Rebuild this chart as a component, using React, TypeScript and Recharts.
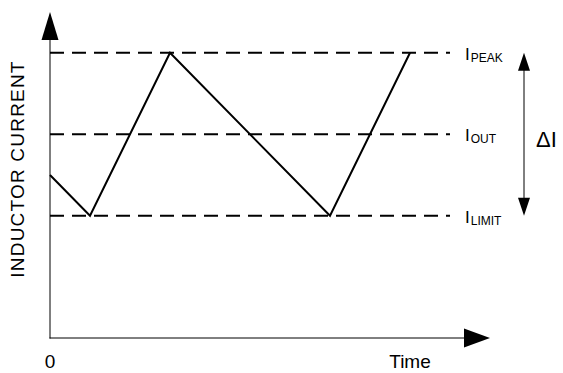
import { LineChart, Line, XAxis, YAxis, ReferenceLine } from "recharts";

// inductor current waveform (time in arbitrary units, current in arbitrary units)
const timePoints = [0, 1, 3, 7, 9];
const currentValues = [4, 3, 7, 3, 7];

// dashed reference levels
const levelNames = ["PEAK", "OUT", "LIMIT"];
const levelValues = [7, 5, 3];

const xTicks = [0, 9];
const xTickLabels = ["0", "Time"];

const X_MAX = 11;
const Y_MAX = 8;
const DASH_END = 10;
const DELTA_X = 11.85;

const FONT = "'Liberation Sans', Arial, sans-serif";

const data = timePoints.map((t, i) => ({ t, current: currentValues[i] }));

function ArrowLine(props: any) {
  const { x1, y1, x2, y2, headLength = 20, headWidth = 12, bothEnds = false, strokeWidth = 2 } = props;
  const dx = x2 - x1;
  const dy = y2 - y1;
  const len = Math.sqrt(dx * dx + dy * dy) || 1;
  const ux = dx / len;
  const uy = dy / len;
  const px = -uy;
  const py = ux;
  const head = (tx: number, ty: number, dir: number) => {
    const bx = tx - dir * ux * headLength;
    const by = ty - dir * uy * headLength;
    const pts = [
      [tx, ty],
      [bx + (px * headWidth) / 2, by + (py * headWidth) / 2],
      [bx - (px * headWidth) / 2, by - (py * headWidth) / 2],
    ];
    return <polygon points={pts.map((p) => p.join(",")).join(" ")} fill="#000" />;
  };
  const sx = bothEnds ? x1 + ux * (headLength - 2) : x1;
  const sy = bothEnds ? y1 + uy * (headLength - 2) : y1;
  const ex = x2 - ux * (headLength - 2);
  const ey = y2 - uy * (headLength - 2);
  return (
    <g>
      <line x1={sx} y1={sy} x2={ex} y2={ey} stroke="#000" strokeWidth={strokeWidth} strokeLinecap="square" />
      {head(x2, y2, 1)}
      {bothEnds && head(x1, y1, -1)}
    </g>
  );
}

function LevelLabel(props: any) {
  const { viewBox, name } = props;
  if (!viewBox) return null;
  const x = viewBox.x + viewBox.width + 15;
  const y = viewBox.y + 7;
  return (
    <text x={x} y={y} fontFamily={FONT} fill="#000">
      <tspan fontSize={17}>I</tspan>
      <tspan fontSize={12} dx={1} dy={2}>{name}</tspan>
    </text>
  );
}

function DeltaLabel(props: any) {
  const { viewBox } = props;
  if (!viewBox) return null;
  return (
    <text
      x={viewBox.x + viewBox.width + 12}
      y={viewBox.y + viewBox.height / 2 + 13}
      fontFamily={FONT}
      fontSize={22}
      fill="#000"
    >
      ΔI
    </text>
  );
}

function AxisTitle(props: any) {
  const { viewBox } = props;
  if (!viewBox) return null;
  const x = viewBox.x + 23.5;
  const y = viewBox.y + viewBox.height / 2 - 6;
  return (
    <text
      x={x}
      y={y}
      transform={`rotate(-90, ${x}, ${y})`}
      textAnchor="middle"
      fontFamily={FONT}
      fontSize={19}
      letterSpacing={1.2}
      fill="#000"
    >
      INDUCTOR CURRENT
    </text>
  );
}

export default function App() {
  return (
    <div style={{ position: "absolute", left: 0, top: 0, width: 563, height: 373, background: "#fff" }}>
      <LineChart width={563} height={373} data={data} margin={{ top: 12, right: 73, bottom: 0, left: 0 }}>
        <XAxis
          dataKey="t"
          type="number"
          domain={[0, X_MAX]}
          ticks={xTicks}
          tickFormatter={(v: number) => xTickLabels[xTicks.indexOf(v)] ?? ""}
          axisLine={false}
          tickLine={false}
          tickMargin={11}
          height={35}
          tick={{ fontSize: 19, fill: "#000", fontFamily: FONT }}
        />
        <YAxis
          type="number"
          domain={[0, Y_MAX]}
          axisLine={false}
          tickLine={false}
          tick={false}
          width={50}
          label={<AxisTitle />}
        />
        {levelValues.map((v, i) => (
          <ReferenceLine
            key={levelNames[i]}
            segment={[{ x: 0, y: v }, { x: DASH_END, y: v }]}
            stroke="#000"
            strokeWidth={2}
            strokeDasharray="14 8"
            label={<LevelLabel name={levelNames[i]} />}
          />
        ))}
        <ReferenceLine
          segment={[{ x: 0, y: 0 }, { x: 0, y: Y_MAX }]}
          shape={(p: any) => <ArrowLine {...p} headLength={28} headWidth={17} />}
        />
        <ReferenceLine
          segment={[{ x: 0, y: 0 }, { x: X_MAX, y: 0 }]}
          shape={(p: any) => <ArrowLine {...p} headLength={26} headWidth={19} />}
        />
        <ReferenceLine
          segment={[{ x: DELTA_X, y: levelValues[0] }, { x: DELTA_X, y: levelValues[2] }]}
          ifOverflow="visible"
          shape={(p: any) => <ArrowLine {...p} headLength={18} headWidth={12} bothEnds />}
          label={<DeltaLabel />}
        />
        <Line
          type="linear"
          dataKey="current"
          stroke="#000"
          strokeWidth={2}
          dot={false}
          activeDot={false}
          isAnimationActive={false}
        />
      </LineChart>
    </div>
  );
}
